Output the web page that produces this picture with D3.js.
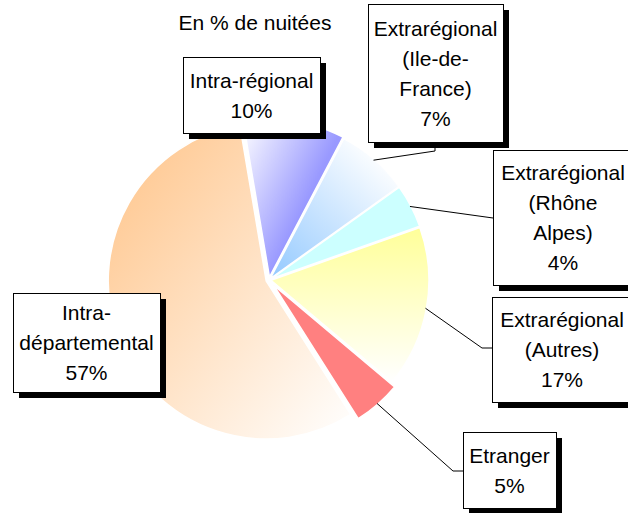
<!DOCTYPE html>
<html>
<head>
<meta charset="UTF-8">
<style>
  body { margin: 0; background: #fff; }
  svg text { font-family: "Liberation Sans", Arial, sans-serif; font-size: 21px; fill: #000; }
</style>
</head>
<body>
<svg></svg>
<script src="https://d3js.org/d3.v7.min.js"></script>
<script>
  // nuitées par origine, dans le sens horaire à partir du haut
  let categories = ["Intra-régional", "Extrarégional (Ile-de-France)", "Extrarégional (Rhône Alpes)",
    "Extrarégional (Autres)", "Etranger", "Intra-départemental"];
  let values = [10.4, 7.45, 4.45, 16.6, 4.9, 56.5];
  let labelLines = [["Intra-régional"], ["Extrarégional", "(Ile-de-", "France)"], ["Extrarégional", "(Rhône", "Alpes)"],
    ["Extrarégional", "(Autres)"], ["Etranger"], ["Intra-", "départemental"]];
  let title = "En % de nuitées";

  // mise en page
  let width = 628, height = 513;
  let cx = 269, cy = 280, radius = 158;
  let startDeg = -9.6;
  let explode = [3, 2, 2, 2, 7, 3];
  let boxes = [
    { x: 183, y: 57, w: 137, h: 76 },
    { x: 368, y: 4, w: 135, h: 138 },
    { x: 493, y: 150, w: 140, h: 135 },
    { x: 492, y: 297, w: 140, h: 105 },
    { x: 463, y: 432, w: 93, h: 76 },
    { x: 13, y: 293, w: 147, h: 99 }
  ];
  let leaders = [null, [[435, 151], [435, 148]], [[493, 218]], [[482, 348], [492, 348]], [[453, 471], [463, 471]], null];
  let fills = [
    { x1: 0, y1: 0, x2: 0.65, y2: 0.5, stops: [["0", "#ffffff"], ["1", "#9999ff"]] },
    { x1: 0.1, y1: 1, x2: 0.85, y2: 0.1, stops: [["0", "#99ccff"], ["1", "#ffffff"]] },
    { solid: "#ccffff" },
    { x1: 0, y1: 0, x2: 0, y2: 1, stops: [["0", "#ffff99"], ["1", "#ffffff"]] },
    { solid: "#ff8080" },
    { x1: 0, y1: 0, x2: 1, y2: 1, stops: [["0.15", "#ffcc99"], ["1", "#ffffff"]] }
  ];

  let svg = d3.select("svg").attr("width", width).attr("height", height);

  let defs = svg.append("defs");
  fills.forEach((f, i) => {
    if (f.solid) return;
    let g = defs.append("linearGradient").attr("id", "grad" + i)
      .attr("x1", f.x1).attr("y1", f.y1).attr("x2", f.x2).attr("y2", f.y2);
    f.stops.forEach(s => g.append("stop").attr("offset", s[0]).attr("stop-color", s[1]));
  });

  let start = startDeg * Math.PI / 180;
  let pie = d3.pie().sort(null).value(d => d).startAngle(start).endAngle(start + 2 * Math.PI);
  let arcs = pie(values);
  let arc = d3.arc().innerRadius(0).outerRadius(radius);

  function mid(a) { return (a.startAngle + a.endAngle) / 2; }

  let pieG = svg.append("g").attr("transform", "translate(" + cx + "," + cy + ")");
  pieG.selectAll("path")
    .data(arcs)
    .enter()
    .append("path")
    .attr("d", arc)
    .attr("transform", (d, i) => {
      let m = mid(d);
      return "translate(" + (Math.sin(m) * explode[i]) + "," + (-Math.cos(m) * explode[i]) + ")";
    })
    .attr("fill", (d, i) => fills[i].solid ? fills[i].solid : "url(#grad" + i + ")")
    .attr("stroke", "#fff")
    .attr("stroke-width", 1.5);

  // lignes de rappel
  arcs.forEach((d, i) => {
    if (!leaders[i]) return;
    let m = mid(d), r = radius + explode[i] - 1;
    let pts = [[cx + Math.sin(m) * r, cy - Math.cos(m) * r]].concat(leaders[i]);
    svg.append("path")
      .attr("d", d3.line()(pts))
      .attr("fill", "none")
      .attr("stroke", "#000")
      .attr("stroke-width", 1);
  });

  // étiquettes
  let lab = svg.selectAll(".label")
    .data(arcs)
    .enter()
    .append("g")
    .attr("class", "label");

  lab.append("rect")
    .attr("x", (d, i) => boxes[i].x + 6).attr("y", (d, i) => boxes[i].y + 6)
    .attr("width", (d, i) => boxes[i].w).attr("height", (d, i) => boxes[i].h)
    .attr("fill", "#000");
  lab.append("rect")
    .attr("x", (d, i) => boxes[i].x + 0.5).attr("y", (d, i) => boxes[i].y + 0.5)
    .attr("width", (d, i) => boxes[i].w).attr("height", (d, i) => boxes[i].h)
    .attr("fill", "#fff").attr("stroke", "#000").attr("stroke-width", 1);

  lab.each(function (d, i) {
    let lines = labelLines[i].concat([Math.round(values[i]) + "%"]);
    let b = boxes[i];
    let c = b.y + b.h / 2;
    lines.forEach((t, k) => {
      d3.select(this).append("text")
        .attr("x", b.x + b.w / 2)
        .attr("y", c + (k - (lines.length - 1) / 2) * 30 + 7.5)
        .attr("text-anchor", "middle")
        .text(t);
    });
  });

  svg.append("text")
    .attr("x", 255).attr("y", 30)
    .attr("text-anchor", "middle")
    .text(title);
</script>
</body>
</html>
